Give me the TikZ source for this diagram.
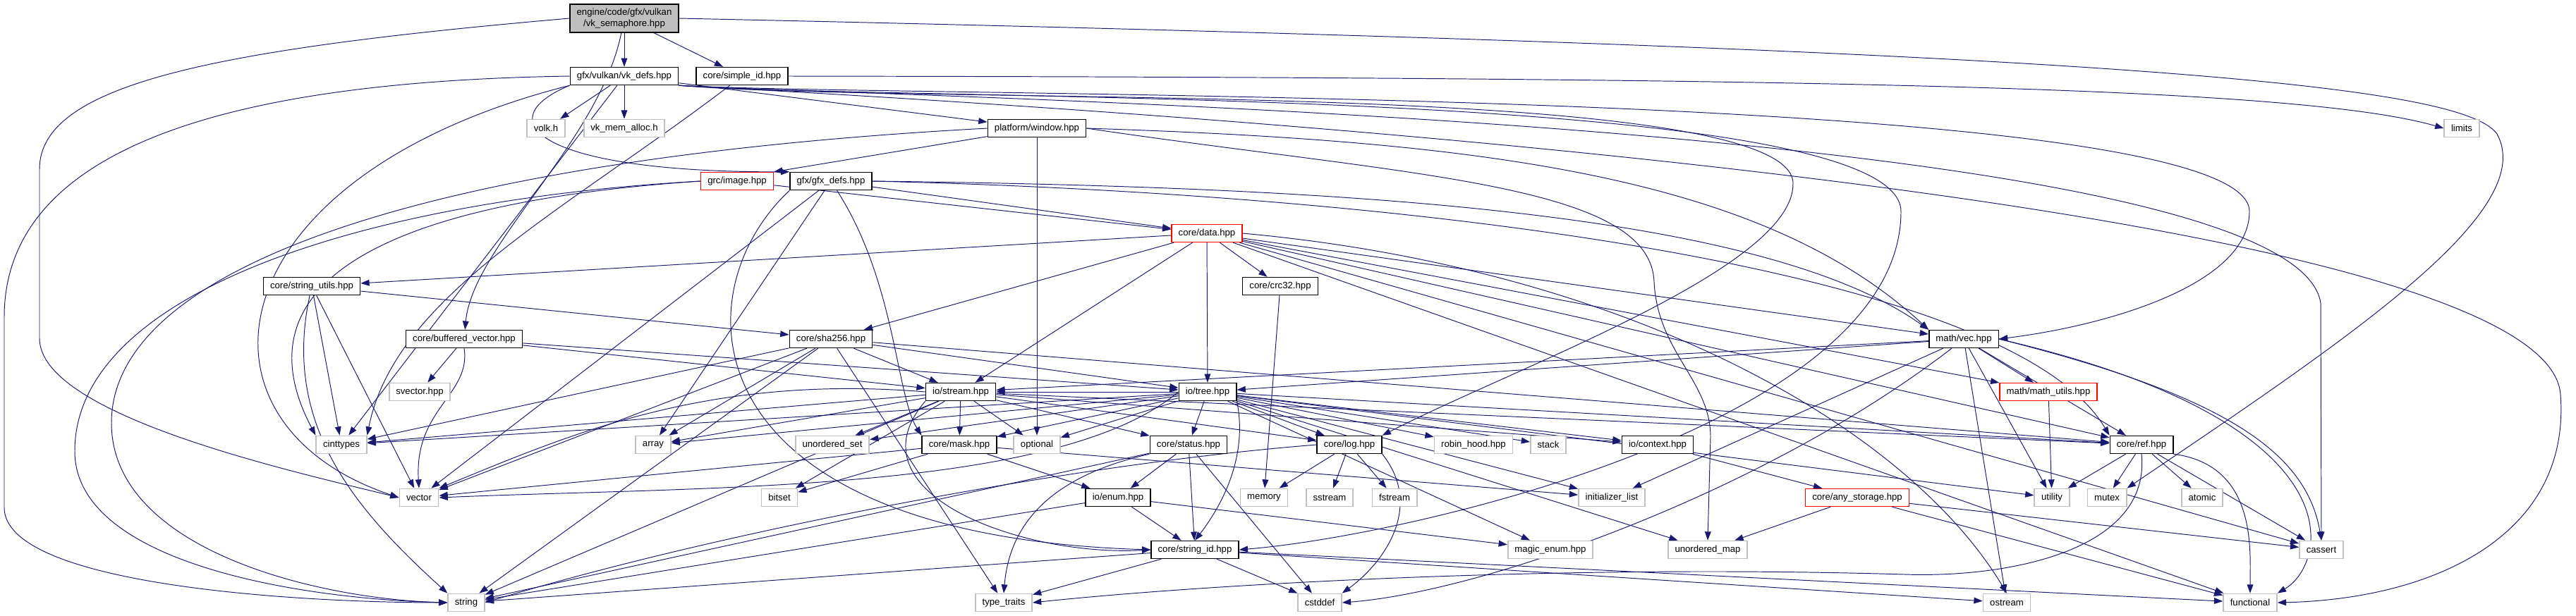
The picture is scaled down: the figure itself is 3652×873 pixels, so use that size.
\documentclass[tikz,border=0pt]{standalone}
\usepackage{fontspec}
\newfontfamily\graphfont{Liberation Sans}
\usepackage{tikz}
\usetikzlibrary{arrows.meta, backgrounds}
\definecolor{edgeblue}{RGB}{25, 25, 112}
\definecolor{boxgray}{RGB}{191, 191, 191}

\begin{document}
\begin{tikzpicture}[x=0.02cm, y=-0.02cm,
    file/.style={draw=black, line width=0.8pt, fill=white, inner xsep=5.5pt,
                 inner ysep=0pt, minimum height=0.5cm,
                 font=\graphfont\fontsize{7.5}{9}\selectfont},
    hdr/.style={file},
    trunc/.style={file, draw=red},
    sys/.style={file, draw=boxgray, line width=1pt},
    top/.style={file, fill=boxgray, minimum height=0.8cm, align=center},
    dep/.style={draw=edgeblue, line width=0.55pt,
                -{Triangle[length=7pt, width=5pt]}}]
  \useasboundingbox (0,0) rectangle (3652,873);

  % ---- files, row by row ----
  \node[top] (root) at (885,26) {engine/code/gfx/vulkan\\/vk\_semaphore.hpp};

  \node[hdr] (vkdefs) at (885,108) {gfx/vulkan/vk\_defs.hpp};
  \node[hdr] (simpleid) at (1052,108) {core/simple\_id.hpp};

  \node[sys] (volk) at (774,182) {volk.h};
  \node[sys] (vkmem) at (885,182) {vk\_mem\_alloc.h};
  \node[hdr] (window) at (1470,182) {platform/window.hpp};
  \node[sys] (limits) at (3490,182) {limits};

  \node[trunc] (grcimage) at (1045,257) {grc/image.hpp};
  \node[hdr] (gfxdefs) at (1178,257) {gfx/gfx\_defs.hpp};

  \node[trunc] (data) at (1711,331) {core/data.hpp};

  \node[hdr] (strutils) at (442,406) {core/string\_utils.hpp};
  \node[hdr] (crc32) at (1815,406) {core/crc32.hpp};

  \node[hdr] (bufvec) at (658,481) {core/buffered\_vector.hpp};
  \node[hdr] (sha256) at (1178,481) {core/sha256.hpp};
  \node[hdr] (vec) at (2784,481) {math/vec.hpp};

  \node[sys] (svector) at (595,556) {svector.hpp};
  \node[hdr] (stream) at (1362,556) {io/stream.hpp};
  \node[hdr] (tree) at (1712,556) {io/tree.hpp};
  \node[trunc] (mathutils) at (2904,556) {math/math\_utils.hpp};

  \node[sys] (cinttypes) at (484,631) {cinttypes};
  \node[sys] (array) at (926,631) {array};
  \node[sys] (unorderedset) at (1180,631) {unordered\_set};
  \node[hdr] (mask) at (1360,631) {core/mask.hpp};
  \node[sys] (optional) at (1470,631) {optional};
  \node[hdr] (status) at (1685,631) {core/status.hpp};
  \node[hdr] (log) at (1913,631) {core/log.hpp};
  \node[sys] (robinhood) at (2089,631) {robin\_hood.hpp};
  \node[sys] (stack) at (2195,631) {stack};
  \node[hdr] (context) at (2350,631) {io/context.hpp};
  \node[hdr] (ref) at (3036,631) {core/ref.hpp};

  \node[sys] (vector) at (594,706) {vector};
  \node[sys] (bitset) at (1105,706) {bitset};
  \node[hdr] (enum) at (1585,706) {io/enum.hpp};
  \node[sys] (memory) at (1792,706) {memory};
  \node[sys] (sstream) at (1885,706) {sstream};
  \node[sys] (fstream) at (1977,706) {fstream};
  \node[sys] (initlist) at (2285,706) {initializer\_list};
  \node[trunc] (anystorage) at (2633,706) {core/any\_storage.hpp};
  \node[sys] (utility) at (2909,706) {utility};
  \node[sys] (mutex) at (2987,706) {mutex};
  \node[sys] (atomic) at (3122,706) {atomic};

  \node[hdr] (stringid) at (1694,780) {core/string\_id.hpp};
  \node[sys] (magicenum) at (2198,780) {magic\_enum.hpp};
  \node[sys] (unorderedmap) at (2421,780) {unordered\_map};
  \node[sys] (cassert) at (3291,780) {cassert};

  \node[sys] (string) at (661,855) {string};
  \node[sys] (typetraits) at (1423,855) {type\_traits};
  \node[sys] (cstddef) at (1871,855) {cstddef};
  \node[sys] (ostream) at (2845,855) {ostream};
  \node[sys] (functional) at (3190,855) {functional};

  \begin{scope}[on background layer]
    % ---- vk_semaphore.hpp ----
    \foreach \t in {vkdefs,simpleid}
      \draw[dep] (root) -- (\t);
    \draw[dep] (root) .. controls (850,200) and (670,350) .. (bufvec);
    \draw[dep] (root.west) .. controls (300,70) and (56,120) .. (56,240)
      -- (56,480) .. controls (56,590) and (420,670) .. (vector.west);
    \draw[dep] (root.east) .. controls (3000,70) and (3490,120) .. (3540,190)
      .. controls (3600,300) and (3330,480) .. (mutex.north east);

    % ---- simple_id / vk_defs / window ----
    \draw[dep] (simpleid.east) .. controls (2500,110) and (3250,120) .. (limits.west);
    \draw[dep] (simpleid) .. controls (800,300) and (560,420) .. (cinttypes.north east);
    \foreach \t in {volk,vkmem,window,cinttypes}
      \draw[dep] (vkdefs) -- (\t);
    \draw[dep] (vkdefs.south west) .. controls (690,170) and (760,245) .. (gfxdefs.north west);
    \draw[dep] (vkdefs.west) .. controls (350,115) and (6,200) .. (6,450)
      -- (6,720) .. controls (6,830) and (420,855) .. (string.west);
    \draw[dep] (vkdefs.south west) .. controls (300,250) and (250,600) .. (vector.west);
    \draw[dep] (vkdefs.south east) .. controls (1300,150) and (2540,110) .. (2542,260)
      .. controls (2544,380) and (2150,520) .. (log.north east);
    \draw[dep] (vkdefs.south east) .. controls (1300,145) and (2695,120) .. (2695,300)
      .. controls (2695,600) and (2000,760) .. (stringid.east);
    \draw[dep] (vkdefs.south east) .. controls (1300,140) and (3189,120) .. (3189,300)
      .. controls (3189,400) and (3000,460) .. (vec.east);
    \draw[dep] (vkdefs.south east) .. controls (1300,140) and (3250,170) .. (3290,430)
      -- (cassert.north);
    \draw[dep] (vkdefs.south east) .. controls (1300,140) and (3610,260) .. (3630,560)
      .. controls (3645,760) and (3450,850) .. (functional.east);
    \draw[dep] (window) -- (grcimage.north east);
    \draw[dep] (window) -- (optional);
    \draw[dep] (window.west) .. controls (600,225) and (158,380) .. (158,600)
      .. controls (158,780) and (450,850) .. (string.west);
    \draw[dep] (window.east) .. controls (2100,200) and (2500,250) .. (vec.north west);
    \draw[dep] (window.east) .. controls (2000,250) and (2340,260) .. (2345,400)
      .. controls (2350,500) and (2425,540) .. (2425,620) -- (unorderedmap.north);

    % ---- graphics headers ----
    \draw[dep] (grcimage) -- (data);
    \draw[dep] (grcimage.west) .. controls (500,285) and (106,420) .. (106,640)
      .. controls (106,800) and (430,850) .. (string.west);
    \draw[dep] (grcimage.west) .. controls (500,290) and (343,420) .. (cinttypes.north west);
    \foreach \t in {data,array,vector}
      \draw[dep] (gfxdefs) -- (\t);
    \draw[dep] (gfxdefs) .. controls (1270,400) and (1270,560) .. (mask.north west);
    \draw[dep] (gfxdefs.east) .. controls (1900,265) and (2500,300) .. (vec.north west);
    \draw[dep] (gfxdefs.east) .. controls (2000,275) and (2850,380) .. (ref.north west);
    \draw[dep] (gfxdefs.south west) .. controls (960,420) and (980,760) .. (stringid.west);

    % ---- core/data.hpp ----
    \foreach \t in {strutils,sha256,stream,tree,crc32,vec,mathutils,ref,cassert,functional}
      \draw[dep] (data) -- (\t);
    \draw[dep] (data.east) .. controls (2300,380) and (2700,600) .. (ostream.north);
    \draw[dep] (crc32) -- (memory);

    % ---- string_utils / buffered_vector / sha256 ----
    \foreach \t in {sha256,cinttypes,vector}
      \draw[dep] (strutils) -- (\t);
    \draw[dep] (strutils) .. controls (400,600) and (500,720) .. (string.north west);
    \foreach \t in {svector,stream,tree}
      \draw[dep] (bufvec) -- (\t);
    \draw[dep] (bufvec.south) .. controls (668,560) and (587,580) .. (vector.north);
    \foreach \t in {stream,tree,cinttypes,array,string,vector,typetraits,ref}
      \draw[dep] (sha256) -- (\t);

    % ---- math ----
    \foreach \t in {stream,tree,mathutils,ref,ostream,initlist,utility}
      \draw[dep] (vec) -- (\t);
    \draw[dep] (vec.east) .. controls (3150,560) and (3270,640) .. (cassert.north);
    \draw[dep] (vec.east) .. controls (3350,600) and (3300,800) .. (functional.north east);
    \draw[dep] (vec) .. controls (2500,700) and (2100,840) .. (cstddef.east);
    \draw[dep] (mathutils) -- (utility);

    % ---- io/stream.hpp ----
    \foreach \t in {mask,unorderedset,array,optional,cinttypes,string,bitset,log,status,ref,context}
      \draw[dep] (stream) -- (\t);
    \draw[dep] (stream.west) .. controls (1000,530) and (800,620) .. (vector.north east);
    \draw[dep] (stream.south west) .. controls (1200,700) and (1450,790) .. (stringid.west);

    % ---- io/tree.hpp ----
    \foreach \t in {stream,status,log,robinhood,stack,context,ref,unorderedset,optional,mask,array,cinttypes,utility,unorderedmap,initlist,magicenum}
      \draw[dep] (tree) -- (\t);
    \draw[dep] (tree.south east) .. controls (1770,650) and (1730,720) .. (stringid.north);
    \draw[dep] (tree.west) .. controls (1500,700) and (1000,690) .. (vector.east);

    % ---- mask / status / log / enum ----
    \foreach \t in {bitset,enum,vector,initlist}
      \draw[dep] (mask) -- (\t);
    \foreach \t in {enum,stringid,string,cstddef}
      \draw[dep] (status) -- (\t);
    \draw[dep] (status.south west) .. controls (1470,680) and (1430,760) .. (typetraits.north);
    \foreach \t in {memory,sstream,fstream}
      \draw[dep] (log) -- (\t);
    \draw[dep] (log.south east) .. controls (2020,720) and (1960,800) .. (cstddef.north east);
    \draw[dep] (log.west) .. controls (1500,660) and (1000,760) .. (string.east);
    \draw[dep] (context) -- (anystorage);
    \foreach \t in {stringid,magicenum,string}
      \draw[dep] (enum) -- (\t);

    % ---- any_storage / ref / string_id ----
    \foreach \t in {unorderedmap,cassert,functional}
      \draw[dep] (anystorage) -- (\t);
    \foreach \t in {utility,mutex,atomic,cassert}
      \draw[dep] (ref) -- (\t);
    \draw[dep] (ref.south east) .. controls (3200,660) and (3190,780) .. (functional.north);
    \draw[dep] (ref.south) .. controls (3050,780) and (2850,820) .. (2700,815)
      .. controls (2200,800) and (1700,830) .. (typetraits.east);
    \foreach \t in {string,typetraits,cstddef,ostream,functional}
      \draw[dep] (stringid) -- (\t);
  \end{scope}
\end{tikzpicture}
\end{document}
